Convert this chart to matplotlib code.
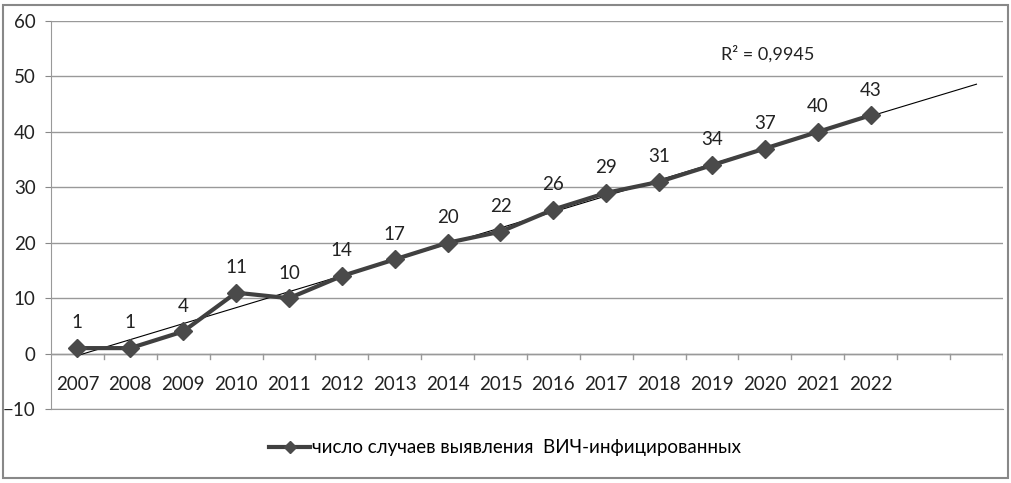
import numpy as np
import matplotlib.pyplot as plt
from matplotlib.patches import Rectangle

plt.rcParams['font.family'] = ['Lato', 'DejaVu Sans']

# данные
years = ['2007', '2008', '2009', '2010', '2011', '2012', '2013', '2014',
         '2015', '2016', '2017', '2018', '2019', '2020', '2021', '2022']
cases = [1, 1, 4, 11, 10, 14, 17, 20, 22, 26, 29, 31, 34, 37, 40, 43]
forecast_periods = 2
series_name = 'число случаев выявления  ВИЧ-инфицированных'
r2_text = 'R² = 0,9945'

fig = plt.figure(figsize=(10.11, 4.83), dpi=100)
ax = fig.add_axes([0.0504, 0.153, 0.9416, 0.8035])

x = np.arange(1, len(years) + 1)
n_cat = len(years) + forecast_periods

# линия тренда (линейная, прогноз вперёд на 2 периода)
k, b = np.polyfit(x, cases, 1)
xt = np.array([1, n_cat])
ax.plot(xt, k * xt + b, color='black', lw=0.8, zorder=3)

ax.plot(x, cases, color='#404040', lw=3, marker='D', ms=9.5,
        markerfacecolor='#4a4a4a', markeredgecolor='#4a4a4a', zorder=4,
        label=series_name)

for xi, v in zip(x, cases):
    ax.annotate(str(v), (xi, v), xytext=(0, 12), textcoords='offset points',
                ha='center', va='bottom', fontsize=13.5, color='#222222')

ax.text(14.05, 54, r2_text, ha='center', va='center', fontsize=13,
        color='#222222')

ax.set_xlim(0.5, n_cat + 0.5)
ax.set_ylim(-10, 60)
ax.set_yticks(range(-10, 61, 10))
ax.tick_params(axis='y', labelsize=13.5, length=4, color='#888888',
               labelcolor='#222222', pad=7)
ax.grid(axis='y', color='#999999', lw=1)
ax.set_axisbelow(True)

# категории у нулевой оси
ax.set_xticks(np.arange(0.5, n_cat + 1, 1))
ax.set_xticklabels([])
ax.tick_params(axis='x', length=0)
ax.axhline(0, color='#999999', lw=1, zorder=2)
for t in np.arange(1.5, n_cat + 1, 1):
    ax.plot([t, t], [0, -0.9], color='#999999', lw=1, zorder=2)
for xi, lab in zip(x, years):
    ax.text(xi, -5.5, lab, ha='center', va='center', fontsize=13.5,
            color='#222222')

for s in ['top', 'right']:
    ax.spines[s].set_visible(False)
for s in ['left', 'bottom']:
    ax.spines[s].set_color('#999999')

ax.legend(loc='center', bbox_to_anchor=(0.477, -0.1), frameon=False,
          fontsize=13.5, handlelength=2.2, handletextpad=0.1,
          markerscale=0.6)

fig.add_artist(Rectangle((0.003, 0.01), 0.994, 0.98, transform=fig.transFigure,
                         fill=False, edgecolor='#888888', lw=1.5))

fig.savefig('out.png', dpi=100)
